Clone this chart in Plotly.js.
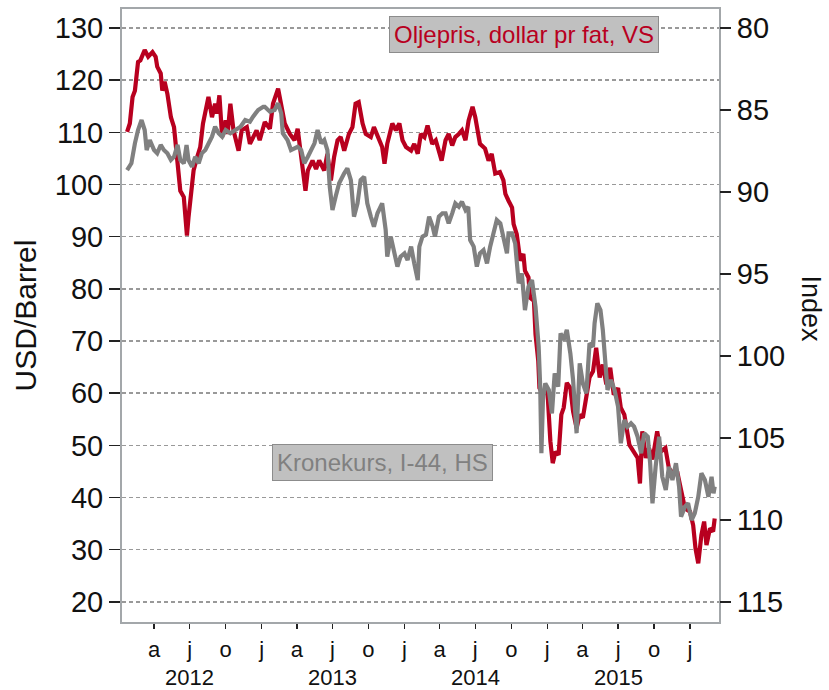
<!DOCTYPE html>
<html>
<head>
<meta charset="utf-8">
<script src="https://cdn.plot.ly/plotly-3.0.1.min.js"></script>
<style>html,body{margin:0;padding:0;background:#fff;}#chart{width:829px;height:690px;}</style>
</head>
<body>
<div id="chart"></div>
<script>
// Oil price, USD per barrel (left axis)
const oilDates = ["2012-01-23","2012-01-30","2012-02-06","2012-02-12","2012-02-20","2012-02-26","2012-03-08","2012-03-17","2012-03-28","2012-04-05","2012-04-09","2012-04-18","2012-04-22","2012-04-28","2012-05-05","2012-05-14","2012-05-22","2012-05-26","2012-06-03","2012-06-07","2012-06-16","2012-06-24","2012-06-28","2012-07-04","2012-07-11","2012-07-20","2012-07-28","2012-08-04","2012-08-12","2012-08-18","2012-08-27","2012-09-04","2012-09-09","2012-09-15","2012-09-22","2012-10-01","2012-10-06","2012-10-13","2012-10-21","2012-11-03","2012-11-11","2012-11-24","2012-12-02","2012-12-10","2012-12-19","2012-12-27","2013-01-09","2013-01-22","2013-01-30","2013-02-12","2013-02-20","2013-03-01","2013-03-14","2013-03-26","2013-04-03","2013-04-12","2013-04-23","2013-04-29","2013-05-11","2013-05-20","2013-05-28","2013-06-10","2013-06-18","2013-06-27","2013-07-05","2013-07-14","2013-07-22","2013-07-31","2013-08-12","2013-08-21","2013-08-29","2013-09-06","2013-09-16","2013-09-24","2013-10-07","2013-10-15","2013-10-28","2013-11-05","2013-11-11","2013-11-18","2013-12-01","2013-12-10","2013-12-19","2013-12-27","2014-01-05","2014-01-18","2014-01-26","2014-02-04","2014-02-12","2014-02-21","2014-03-01","2014-03-13","2014-03-22","2014-03-30","2014-04-06","2014-04-16","2014-04-24","2014-05-03","2014-05-11","2014-05-20","2014-05-28","2014-06-06","2014-06-14","2014-06-24","2014-07-01","2014-07-13","2014-07-26","2014-08-04","2014-08-12","2014-08-21","2014-09-02","2014-09-11","2014-09-16","2014-09-24","2014-10-03","2014-10-07","2014-10-15","2014-10-24","2014-11-01","2014-11-05","2014-11-14","2014-11-18","2014-11-28","2014-12-02","2014-12-09","2014-12-12","2014-12-21","2015-01-01","2015-01-05","2015-01-09","2015-01-15","2015-01-22","2015-01-30","2015-02-06","2015-02-12","2015-02-20","2015-03-01","2015-03-08","2015-03-17","2015-03-25","2015-04-02","2015-04-11","2015-04-19","2015-04-28","2015-05-06","2015-05-15","2015-05-23","2015-06-01","2015-06-11","2015-06-20","2015-07-01","2015-07-08","2015-07-17","2015-07-30","2015-08-11","2015-08-20","2015-08-26","2015-09-01","2015-09-10","2015-09-18","2015-09-27","2015-10-09","2015-10-18","2015-10-30","2015-11-08","2015-11-21","2015-11-29","2015-12-09","2015-12-19","2016-01-01","2016-01-09","2016-01-15","2016-01-22","2016-01-30","2016-02-06","2016-02-12","2016-02-21","2016-02-29","2016-03-04"];
const oilValues = [110.1,111.7,116.8,118.0,123.5,123.8,125.8,124.5,125.4,124.5,122.6,121.3,118.0,119.7,117.4,112.9,111.0,107.8,102.7,98.8,97.6,90.2,93.7,98.8,102.7,105.2,107.2,111.7,114.2,116.8,112.9,115.5,113.6,117.1,109.1,112.3,109.7,115.5,110.4,106.5,110.4,111.0,107.8,109.1,110.4,108.5,112.0,110.7,115.5,118.4,115.5,111.7,109.7,108.5,110.7,104.6,98.8,102.7,104.6,103.0,104.6,102.7,105.9,100.8,105.2,108.5,109.1,106.5,109.7,111.0,115.5,115.8,111.7,109.7,109.1,111.0,108.5,107.2,104.0,107.8,111.7,110.4,111.7,108.5,107.2,106.5,107.8,105.9,109.7,109.1,111.3,107.8,108.5,106.2,104.6,108.5,109.7,107.5,109.1,109.7,110.4,108.5,112.3,114.9,112.9,107.8,106.9,104.6,105.9,102.1,102.4,100.8,98.2,96.9,95.6,92.4,90.5,85.4,86.7,83.5,82.2,78.3,77.7,71.3,66.2,61.0,59.7,61.0,55.3,50.8,46.6,48.8,48.2,55.9,57.2,62.0,61.0,56.5,53.3,55.9,55.3,59.1,63.0,64.2,68.7,63.0,65.5,61.7,64.9,59.7,61.0,57.2,55.9,50.1,48.8,47.6,42.7,52.7,47.6,49.5,47.3,52.7,48.8,49.5,45.6,44.4,45.0,41.2,37.9,37.3,34.7,30.2,27.4,32.8,35.4,30.9,34.1,33.5,36.0];

// Krone exchange rate index I-44 (right axis, inverted)
const kroneDates = ["2012-01-23","2012-02-03","2012-02-12","2012-02-20","2012-02-29","2012-03-08","2012-03-13","2012-03-21","2012-04-01","2012-04-09","2012-04-18","2012-04-26","2012-05-05","2012-05-14","2012-05-22","2012-05-31","2012-06-07","2012-06-16","2012-06-23","2012-06-28","2012-07-07","2012-07-15","2012-07-24","2012-08-01","2012-08-10","2012-08-18","2012-08-27","2012-09-04","2012-09-13","2012-09-22","2012-10-01","2012-10-13","2012-10-26","2012-11-08","2012-11-20","2012-12-02","2012-12-10","2012-12-23","2013-01-05","2013-01-09","2013-01-22","2013-02-03","2013-02-12","2013-02-20","2013-02-24","2013-03-08","2013-03-17","2013-04-03","2013-04-12","2013-04-20","2013-04-29","2013-05-07","2013-05-16","2013-05-24","2013-06-02","2013-06-10","2013-06-18","2013-06-24","2013-07-01","2013-07-09","2013-07-18","2013-07-31","2013-08-08","2013-08-17","2013-08-25","2013-09-03","2013-09-11","2013-09-20","2013-09-28","2013-10-07","2013-10-15","2013-10-24","2013-11-05","2013-11-14","2013-11-18","2013-11-27","2013-12-05","2013-12-14","2013-12-22","2014-01-01","2014-01-09","2014-01-18","2014-01-26","2014-02-04","2014-02-08","2014-02-16","2014-02-25","2014-03-05","2014-03-14","2014-03-20","2014-03-30","2014-04-08","2014-04-16","2014-04-24","2014-05-03","2014-05-11","2014-05-20","2014-05-28","2014-06-06","2014-06-13","2014-06-18","2014-06-27","2014-07-05","2014-07-13","2014-07-22","2014-07-31","2014-08-08","2014-08-17","2014-08-25","2014-09-03","2014-09-11","2014-09-20","2014-09-24","2014-10-03","2014-10-11","2014-10-20","2014-10-28","2014-11-05","2014-11-14","2014-11-23","2014-12-02","2014-12-06","2014-12-10","2014-12-14","2014-12-17","2014-12-21","2014-12-27","2015-01-05","2015-01-13","2015-01-20","2015-01-29","2015-02-04","2015-02-12","2015-02-20","2015-03-01","2015-03-08","2015-03-17","2015-03-25","2015-04-02","2015-04-11","2015-04-19","2015-04-28","2015-05-02","2015-05-09","2015-05-17","2015-05-23","2015-05-28","2015-06-04","2015-06-13","2015-06-22","2015-07-01","2015-07-08","2015-07-17","2015-07-25","2015-08-03","2015-08-11","2015-08-20","2015-08-29","2015-09-06","2015-09-15","2015-09-21","2015-09-27","2015-10-05","2015-10-14","2015-10-22","2015-10-31","2015-11-08","2015-11-17","2015-11-26","2015-12-04","2015-12-09","2015-12-19","2015-12-27","2016-01-05","2016-01-13","2016-01-22","2016-01-30","2016-02-08","2016-02-17","2016-02-25","2016-03-01","2016-03-04"];
const kroneValues = [88.66,88.25,87.03,86.22,85.61,86.22,87.44,86.83,87.44,87.64,87.13,87.44,87.64,88.05,87.85,87.13,88.05,88.25,87.13,88.05,88.46,87.85,88.25,87.64,87.44,87.03,86.63,86.02,86.42,86.63,86.22,86.42,86.22,86.02,85.61,85.71,85.41,85.00,84.80,84.80,85.10,85.00,84.59,85.20,86.42,86.83,87.44,87.24,87.44,88.25,87.85,87.44,87.03,86.22,87.03,86.83,87.44,89.67,91.10,90.29,89.47,88.86,88.56,89.27,91.50,90.69,89.27,89.07,90.69,91.50,92.11,91.30,90.69,92.32,93.94,92.72,93.54,94.55,93.94,93.74,94.15,93.33,94.35,95.37,93.33,92.72,92.60,91.50,92.11,92.72,91.50,91.30,91.30,91.91,91.30,90.69,90.90,90.59,91.10,90.90,92.93,93.33,94.55,93.74,93.54,94.35,93.33,92.32,91.71,91.91,92.72,93.74,92.52,92.52,93.13,95.57,94.96,97.20,95.77,95.37,97.00,98.21,99.43,101.87,105.93,102.68,101.67,102.07,103.50,101.06,101.87,98.62,99.02,98.41,99.84,101.46,104.71,100.45,101.67,102.28,99.23,99.43,98.00,96.79,97.20,98.41,99.84,102.07,101.46,102.07,103.09,105.32,103.90,104.31,104.10,104.31,104.92,105.93,104.71,104.92,106.54,108.98,106.75,104.92,107.36,108.17,106.75,107.56,106.54,107.97,109.80,109.19,108.98,110.00,109.60,108.58,107.15,107.56,108.58,107.36,108.37,107.97];

// Axis ticks and labels
const quarterTicks = ["2012-04-01","2012-07-01","2012-10-01","2013-01-01","2013-04-01","2013-07-01","2013-10-01","2014-01-01","2014-04-01","2014-07-01","2014-10-01","2015-01-01","2015-04-01","2015-07-01","2015-10-01","2016-01-01"];
const quarterLabels = ["a","j","o","j","a","j","o","j","a","j","o","j","a","j","o","j"];
const yearTicks = ["2013-01-01","2014-01-01","2015-01-01","2016-01-01"];
const yearLabelPos = ["2012-07-01","2013-07-01","2014-07-01","2015-07-01"];
const yearLabels = ["2012","2013","2014","2015"];
const leftTicks = [20,30,40,50,60,70,80,90,100,110,120,130];
const rightTicks = [80,85,90,95,100,105,110,115];

const RED = "#B8001F";
const GREY = "#808080";
const FONT = "Liberation Sans, Arial, sans-serif";
const xRange = ["2012-01-10","2016-03-15"];

const traces = [
  {x: kroneDates, y: kroneValues, yaxis: "y2", type: "scatter", mode: "lines",
   line: {color: GREY, width: 4.2}, name: "Kronekurs, I-44, HS", hoverinfo: "x+y"},
  {x: oilDates, y: oilValues, yaxis: "y", type: "scatter", mode: "lines",
   line: {color: RED, width: 4.2}, name: "Oljepris, dollar pr fat, VS", hoverinfo: "x+y"}
];

const annotations = yearLabels.map((t, i) => ({
  x: yearLabelPos[i], xref: "x", y: -0.091, yref: "paper", yanchor: "middle",
  text: t, showarrow: false, font: {family: FONT, size: 22, color: "#111"}
}));
annotations.push(
  {x: 0.674, y: 0.959, xref: "paper", yref: "paper", xanchor: "center", yanchor: "middle",
   text: "Oljepris, dollar pr fat, VS", showarrow: false,
   font: {family: FONT, size: 24, color: RED}, bgcolor: "#C0C0C0", bordercolor: "#8C8C8C",
   borderwidth: 1, borderpad: 4},
  {x: 0.4363, y: 0.260, xref: "paper", yref: "paper", xanchor: "center", yanchor: "middle",
   text: "Kronekurs, I-44, HS", showarrow: false,
   font: {family: FONT, size: 24, color: GREY}, bgcolor: "#C0C0C0", bordercolor: "#8C8C8C",
   borderwidth: 1, borderpad: 4},
  {x: -0.161, y: 0.5, xref: "paper", yref: "paper", xanchor: "center", yanchor: "middle",
   text: "USD/Barrel", textangle: -90, showarrow: false, font: {family: FONT, size: 30, color: "#111"}},
  {x: 1.154, y: 0.51, xref: "paper", yref: "paper", xanchor: "center", yanchor: "middle",
   text: "Index", textangle: 90, showarrow: false, font: {family: FONT, size: 27, color: "#111"}}
);

const layout = {
  width: 829, height: 690,
  margin: {l: 122, r: 110, t: 9, b: 68},
  paper_bgcolor: "#fff", plot_bgcolor: "#fff",
  showlegend: false,
  font: {family: FONT, color: "#111"},
  xaxis: {
    type: "date", range: xRange, tickmode: "array", tickvals: quarterTicks, ticktext: quarterLabels,
    ticks: "outside", ticklen: 5, tickwidth: 1.5, tickcolor: "#222",
    tickfont: {family: FONT, size: 22, color: "#111"}, ticklabelstandoff: 2,
    showgrid: false, zeroline: false,
    showline: true, mirror: true, linecolor: "#A3A7AA", linewidth: 2
  },
  xaxis2: {
    type: "date", range: xRange, overlaying: "x", anchor: "y", side: "bottom",
    tickmode: "array", tickvals: yearTicks, ticks: "outside", ticklen: 10, tickwidth: 1.5, tickcolor: "#222",
    showticklabels: false, showgrid: false, zeroline: false, showline: false
  },
  yaxis: {
    range: [16.15, 133.65], tickmode: "array", tickvals: leftTicks,
    ticks: "outside", ticklen: 11, tickwidth: 1.5, tickcolor: "#222",
    tickfont: {family: FONT, size: 29, color: "#111"},
    showgrid: true, gridcolor: "#999999", gridwidth: 1.5, griddash: "4px,3px",
    zeroline: false, showline: true, mirror: true, linecolor: "#A3A7AA", linewidth: 2
  },
  yaxis2: {
    overlaying: "y", side: "right", range: [116.22, 78.84], tickmode: "array", tickvals: rightTicks,
    ticks: "outside", ticklen: 11, tickwidth: 1.5, tickcolor: "#222",
    tickfont: {family: FONT, size: 29, color: "#111"},
    showgrid: false, zeroline: false, showline: false
  },
  annotations: annotations
};

Plotly.newPlot("chart", traces, layout, {displayModeBar: false, staticPlot: true});
</script>
</body>
</html>
